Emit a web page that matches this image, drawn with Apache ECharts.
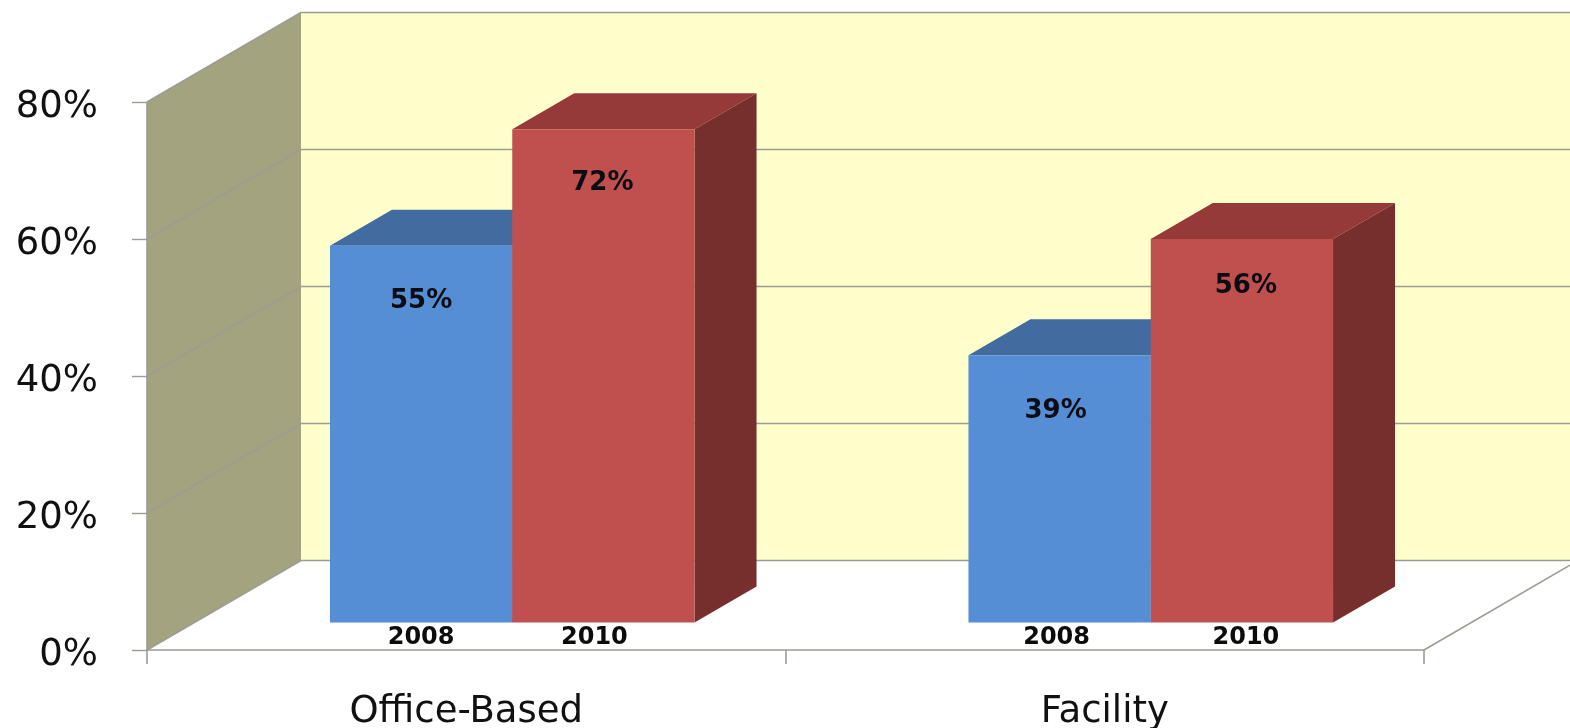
<!DOCTYPE html>
<html>
<head>
<meta charset="utf-8">
<style>html,body{margin:0;padding:0;background:#fff}#c{width:1570px;height:728px}</style>
<script src="https://cdn.jsdelivr.net/npm/echarts@6/dist/echarts.min.js"></script>
</head>
<body>
<div id="c"></div>
<script>
var categories = ['Office-Based', 'Facility'];
var years = ['2008', '2010'];
var values2008 = [55, 39];
var values2010 = [72, 56];
var yTicks = [0, 20, 40, 60, 80];

var LINE = '#9c9c94';
var WALL_DX = 154, WALL_DY = -89.5;
var BAR_DX = 62, BAR_DY = -36, BAR_LIFT = 27.5, BAR_SHIFT = 46, BAR_RATIO = 0.2855;
// hand placement of the text inside/below the bars: [x, y] per category
var valueNudge2008 = [[0, 2], [-4, 3]];
var valueNudge2010 = [[-1, 1], [4, -6]];
var yearNudge2008 = [[0, 0], [-3, 0]];
var yearNudge2010 = [[-9, 0], [4, 0]];

function poly(points, fill) {
  return { type: 'polygon', shape: { points: points }, style: { fill: fill, stroke: null } };
}
function seg(x1, y1, x2, y2) {
  return { type: 'line', z2: 1, shape: { x1: x1, y1: y1, x2: x2, y2: y2 }, style: { stroke: LINE, lineWidth: 1.6, fill: null } };
}

function renderWalls(params, api) {
  var cs = params.coordSys;
  var x0 = cs.x, x1 = cs.x + cs.width, W = api.getWidth();
  var yB = api.coord([0, 0])[1], yT = api.coord([0, yTicks[yTicks.length - 1]])[1];
  var bx = x0 + WALL_DX;
  var kids = [
    poly([[bx, yT + WALL_DY], [W, yT + WALL_DY], [W, yB + WALL_DY], [bx, yB + WALL_DY]], '#ffffcb'),
    poly([[x0, yT], [bx, yT + WALL_DY], [bx, yB + WALL_DY], [x0, yB]], '#a4a380')
  ];
  yTicks.forEach(function (t) {
    var y = api.coord([0, t])[1];
    kids.push(seg(x0, y, bx, y + WALL_DY));
    kids.push(seg(bx, y + WALL_DY, W, y + WALL_DY));
  });
  kids.push(seg(x0, yT, x0, yB));
  kids.push(seg(x1, yB, x1 + WALL_DX, yB + WALL_DY));
  return { type: 'group', children: kids };
}

function barRenderer(year, front, top, side, sign, valueNudge, yearNudge) {
  return function (params, api) {
    var i = api.value(0);
    var c = api.coord([i, api.value(1)]);
    var w = api.size([1, 0])[0] * BAR_RATIO;
    var xc = c[0] + BAR_SHIFT;
    var xL = sign < 0 ? xc - w : xc, xR = xL + w;
    var yTop = c[1] - BAR_LIFT;
    var yBot = api.coord([0, 0])[1] - BAR_LIFT;
    var mid = (xL + xR) / 2;
    return {
      type: 'group',
      children: [
        poly([[xL, yTop], [xL + BAR_DX, yTop + BAR_DY], [xR + BAR_DX, yTop + BAR_DY], [xR, yTop]], top),
        poly([[xR, yTop], [xR + BAR_DX, yTop + BAR_DY], [xR + BAR_DX, yBot + BAR_DY], [xR, yBot]], side),
        poly([[xL, yTop], [xR, yTop], [xR, yBot], [xL, yBot]], front),
        { type: 'text', z2: 5, style: { text: api.value(1) + '%', x: mid + valueNudge[i][0], y: yTop + 53 + valueNudge[i][1], align: 'center', verticalAlign: 'middle',
            font: 'bold 26px "DejaVu Sans"', fill: '#0c0c14' } },
        { type: 'text', z2: 5, style: { text: year, x: mid + yearNudge[i][0], y: yBot + 15 + yearNudge[i][1], align: 'center', verticalAlign: 'middle',
            font: 'bold 24px "DejaVu Sans"', fill: '#0c0c0c' } }
      ]
    };
  };
}

function rows(vals) {
  return categories.map(function (c, i) { return [i, vals[i]]; });
}

var chart = echarts.init(document.getElementById('c'), null, { renderer: 'canvas' });
chart.setOption({
  animation: false,
  backgroundColor: '#ffffff',
  grid: { left: 147, right: 146, top: 102, bottom: 78, outerBoundsMode: 'none' },
  xAxis: {
    type: 'category', data: categories, boundaryGap: true,
    axisLine: { show: true, lineStyle: { color: LINE, width: 1.6 } },
    axisTick: { show: true, length: 14, lineStyle: { color: LINE, width: 1.6 } },
    axisLabel: { color: '#111', fontSize: 37, fontFamily: 'DejaVu Sans', margin: 44 }
  },
  yAxis: {
    type: 'value', min: 0, max: 80, interval: 20,
    axisLine: { show: false },
    axisTick: { show: true, length: 15, lineStyle: { color: LINE, width: 1.4 } },
    splitLine: { show: false },
    axisLabel: {
      margin: 49, formatter: '{a|{value}%}',
      rich: { a: { color: '#111', fontSize: 37, fontFamily: 'DejaVu Sans', padding: [10, 0, 0, 0] } }
    }
  },
  series: [
    { type: 'custom', name: 'walls', clip: false, silent: true, z: 1, renderItem: renderWalls, data: [[0]] },
    { type: 'custom', name: years[0], clip: false, z: 3, renderItem: barRenderer(years[0], '#558ed5', '#426ba0', '#426ba0', -1, valueNudge2008, yearNudge2008), data: rows(values2008) },
    { type: 'custom', name: years[1], clip: false, z: 4, renderItem: barRenderer(years[1], '#c0504d', '#953a38', '#772f2e', 1, valueNudge2010, yearNudge2010), data: rows(values2010) }
  ]
});
</script>
</body>
</html>
